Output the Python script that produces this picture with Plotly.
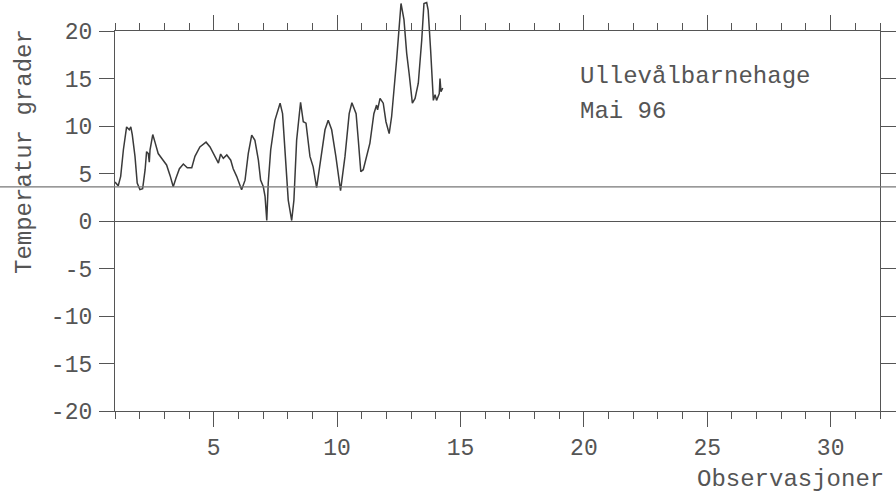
import plotly.graph_objects as go

# Hourly-ish temperature trace, Ullevål barnehage, May 1996
obs = [1.00, 1.13, 1.23, 1.34, 1.47, 1.58, 1.64, 1.70, 1.81, 1.90,
       2.01, 2.12, 2.22, 2.28, 2.35, 2.39, 2.42, 2.53, 2.62, 2.75,
       2.89, 3.09, 3.23, 3.36, 3.47, 3.61, 3.77, 3.93, 4.11, 4.24,
       4.44, 4.69, 4.85, 5.05, 5.19, 5.28, 5.39, 5.53, 5.69, 5.79,
       5.93, 6.13, 6.27, 6.40, 6.54, 6.67, 6.81, 6.90, 7.01, 7.08,
       7.15, 7.21, 7.31, 7.48, 7.69, 7.79, 7.89, 8.02, 8.16, 8.25,
       8.36, 8.52, 8.63, 8.74, 8.90, 9.03, 9.17, 9.31, 9.51, 9.64,
       9.78, 9.95, 10.14, 10.32, 10.49, 10.60, 10.77, 10.86, 10.96, 11.06,
       11.20, 11.33, 11.49, 11.60, 11.64, 11.74, 11.87, 11.98, 12.11, 12.21,
       12.41, 12.59, 12.71, 12.82, 12.92, 13.05, 13.16, 13.29, 13.43, 13.52,
       13.63, 13.69, 13.79, 13.90, 13.97, 14.03, 14.14, 14.17, 14.21, 14.28]
temp = [4.1, 3.7, 4.7, 7.5, 9.9, 9.6, 9.9, 9.1, 6.8, 4.0,
        3.3, 3.4, 5.4, 7.3, 7.1, 6.2, 7.5, 9.1, 8.3, 7.1,
        6.6, 5.9, 4.8, 3.6, 4.5, 5.5, 6.0, 5.6, 5.6, 6.8,
        7.8, 8.3, 7.8, 6.8, 6.1, 7.05, 6.6, 6.95, 6.4, 5.5,
        4.7, 3.3, 4.3, 7.1, 9.05, 8.5, 6.4, 4.3, 3.6, 2.6,
        0.05, 4.0, 7.5, 10.6, 12.4, 11.3, 6.8, 2.2, 0.05, 2.2,
        8.5, 12.5, 10.45, 10.3, 6.8, 5.7, 3.5, 6.1, 9.6, 10.6,
        9.6, 6.8, 3.2, 6.8, 11.3, 12.45, 11.3, 8.5, 5.2, 5.4,
        6.95, 8.2, 11.3, 12.2, 11.7, 12.9, 12.4, 10.45, 9.2, 11.0,
        16.9, 22.9, 21.2, 17.65, 15.5, 12.4, 12.9, 14.5, 19.05, 22.9,
        23.0, 22.2, 18.0, 12.7, 13.3, 12.7, 13.4, 15.0, 13.6, 14.0]

x_ticks = [5, 10, 15, 20, 25, 30]
y_ticks = [-20, -15, -10, -5, 0, 5, 10, 15, 20]
y_labels = ["-20", "-15", "-10", "-5", "0", "5", "10", "15", "20"]
reference_level = 3.6
x_range = [1, 32]
y_range = [-20, 20]

FONT = "Courier New, Liberation Mono, monospace"
INK = "#555555"
W, H = 896, 496
ML, MR, MT, MB = 115, 16, 0, 85
plot_h = H - MT - MB
plot_w = W - ML - MR

# the trace layer (x/y) reaches the top edge of the page;
# the framed axes (x2/y2) sit in the lower part and are drawn above it
frame_top = (plot_h - 31) / plot_h
y_span = (y_range[1] - y_range[0]) / frame_top

fig = go.Figure()
fig.add_trace(go.Scatter(
    x=obs, y=temp, xaxis="x", yaxis="y", mode="lines",
    line=dict(color="#3a3a3a", width=1.5), showlegend=False,
    hoverinfo="x+y",
))

tickfont = dict(family=FONT, size=23, color=INK)
fig.update_layout(
    width=W, height=H,
    margin=dict(l=ML, r=MR, t=MT, b=MB, autoexpand=False),
    paper_bgcolor="white", plot_bgcolor="rgba(0,0,0,0)",
    xaxis=dict(domain=[0, 1], range=x_range, anchor="y", visible=False,
               automargin=False),
    yaxis=dict(domain=[0, 1], range=[y_range[0], y_range[0] + y_span],
               anchor="x", visible=False, automargin=False),
    xaxis2=dict(
        domain=[0, 1], range=x_range, anchor="y2", automargin=False,
        tickmode="array", tickvals=x_ticks,
        ticks="outside", ticklen=15, tickwidth=1.2, tickcolor=INK,
        minor=dict(dtick=1, tick0=0, ticks="outside", ticklen=7,
                   tickwidth=1.2, tickcolor=INK, showgrid=False),
        showline=True, linecolor=INK, linewidth=1.3, mirror="ticks",
        showgrid=False, zeroline=False, tickfont=tickfont,
    ),
    yaxis2=dict(
        domain=[0, frame_top], range=y_range, anchor="x2", automargin=False,
        tickmode="array", tickvals=y_ticks, ticktext=y_labels,
        ticks="outside", ticklen=15, tickwidth=1.2, tickcolor=INK,
        showline=True, linecolor=INK, linewidth=1.3, mirror="ticks",
        showgrid=False, zeroline=True, zerolinecolor=INK, zerolinewidth=1.3,
        tickfont=tickfont, ticklabelstandoff=2,
    ),
)

# reference level drawn right across the page
ref_paper = (reference_level - y_range[0]) / y_span
fig.add_shape(type="line", xref="paper", yref="paper",
              x0=-ML / plot_w, x1=(W - ML) / plot_w,
              y0=ref_paper, y1=ref_paper,
              line=dict(color="#777777", width=1.3))

textfont = dict(family=FONT, size=24, color=INK)
fig.add_annotation(x=19.75, y=15.2, xref="x2", yref="y2", text="Ullevålbarnehage",
                   showarrow=False, xanchor="left", yanchor="middle", font=textfont)
fig.add_annotation(x=19.75, y=11.5, xref="x2", yref="y2", text="Mai 96",
                   showarrow=False, xanchor="left", yanchor="middle", font=textfont)
fig.add_annotation(x=(W - 10 - ML) / plot_w, y=-(480 - (H - MB)) / plot_h,
                   xref="paper", yref="paper", text="Observasjoner",
                   showarrow=False, xanchor="right", yanchor="middle", font=textfont)
fig.add_annotation(x=-(ML - 24) / plot_w, y=(H - MB - 152) / plot_h,
                   xref="paper", yref="paper", text="Temperatur grader",
                   textangle=-90, showarrow=False, xanchor="center",
                   yanchor="middle", font=textfont)

fig.write_html("out.html")
